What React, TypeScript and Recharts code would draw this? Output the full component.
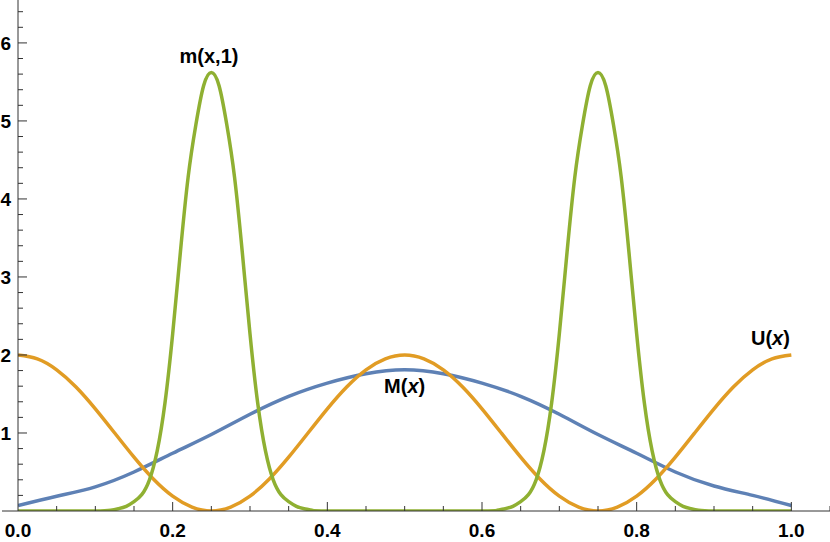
import React from 'react';
import { LineChart, Line, XAxis, YAxis, ReferenceDot } from 'recharts';

// U(x)
const uX = [
  0, 0.025, 0.05, 0.075, 0.1, 0.125, 0.15, 0.175, 0.2, 0.225, 0.25,
  0.275, 0.3, 0.325, 0.35, 0.375, 0.4, 0.425, 0.45, 0.475, 0.5,
  0.525, 0.55, 0.575, 0.6, 0.625, 0.65, 0.675, 0.7, 0.725, 0.75,
  0.775, 0.8, 0.825, 0.85, 0.875, 0.9, 0.925, 0.95, 0.975, 1.0,
];
const uY = [
  2.0, 1.95, 1.81, 1.59, 1.31, 1.0, 0.69, 0.41, 0.19, 0.05, 0.0,
  0.05, 0.19, 0.41, 0.69, 1.0, 1.31, 1.59, 1.81, 1.95, 2.0,
  1.95, 1.81, 1.59, 1.31, 1.0, 0.69, 0.41, 0.19, 0.05, 0.0,
  0.05, 0.19, 0.41, 0.69, 1.0, 1.31, 1.59, 1.81, 1.95, 2.0,
];

// M(x), blue
const bigMX = [
  0, 0.05, 0.1, 0.15, 0.2, 0.25, 0.3, 0.35, 0.4, 0.45, 0.5,
  0.55, 0.6, 0.65, 0.7, 0.75, 0.8, 0.85, 0.9, 0.95, 1.0,
];
const bigMY = [
  0.07, 0.19, 0.31, 0.5, 0.74, 0.98, 1.24, 1.47, 1.64, 1.76, 1.81,
  1.76, 1.64, 1.47, 1.24, 0.98, 0.74, 0.5, 0.32, 0.2, 0.07,
];

// m(x,1), green
const smallMX = [
  0, 0.05, 0.1, 0.12, 0.13, 0.14, 0.15, 0.16, 0.17, 0.18, 0.19, 0.2,
  0.21, 0.22, 0.23, 0.24, 0.25, 0.26, 0.27, 0.28, 0.29, 0.3, 0.31,
  0.32, 0.33, 0.34, 0.35, 0.36, 0.37, 0.38, 0.4, 0.5, 0.6,
  0.62, 0.63, 0.64, 0.65, 0.66, 0.67, 0.68, 0.69, 0.7, 0.71, 0.72,
  0.73, 0.74, 0.75, 0.76, 0.77, 0.78, 0.79, 0.8, 0.81, 0.82, 0.83,
  0.84, 0.85, 0.86, 0.87, 0.88, 0.9, 0.95, 1.0,
];
const smallMY = [
  0, 0, 0, 0.01, 0.03, 0.06, 0.12, 0.21, 0.4, 0.77, 1.38, 2.27,
  3.32, 4.28, 4.95, 5.45, 5.62, 5.45, 4.95, 4.28, 3.32, 2.27, 1.38,
  0.77, 0.4, 0.21, 0.12, 0.06, 0.03, 0.01, 0, 0, 0,
  0.01, 0.03, 0.06, 0.12, 0.21, 0.4, 0.77, 1.38, 2.27, 3.32, 4.28,
  4.95, 5.45, 5.62, 5.45, 4.95, 4.28, 3.32, 2.27, 1.38, 0.77, 0.4,
  0.21, 0.12, 0.06, 0.03, 0.01, 0, 0, 0,
];

const xTicks = [
  0, 0.05, 0.1, 0.15, 0.2, 0.25, 0.3, 0.35, 0.4, 0.45, 0.5,
  0.55, 0.6, 0.65, 0.7, 0.75, 0.8, 0.85, 0.9, 0.95, 1.0, 1.05,
];
const xMajor = [0, 0.2, 0.4, 0.6, 0.8, 1.0];
const xLabels = ['0.0', '0.2', '0.4', '0.6', '0.8', '1.0'];

const yTicks = [
  0.2, 0.4, 0.6, 0.8, 1, 1.2, 1.4, 1.6, 1.8, 2, 2.2, 2.4, 2.6, 2.8, 3,
  3.2, 3.4, 3.6, 3.8, 4, 4.2, 4.4, 4.6, 4.8, 5, 5.2, 5.4, 5.6, 5.8, 6,
  6.2, 6.4,
];
const yMajor = [1, 2, 3, 4, 5, 6];
const yLabels = ['1', '2', '3', '4', '5', '6'];

const toPoints = (xs: number[], ys: number[]) => xs.map((x, i) => ({ x, y: ys[i] }));
const uData = toPoints(uX, uY);
const bigMData = toPoints(bigMX, bigMY);
const smallMData = toPoints(smallMX, smallMY);

const AXIS = '#333';
const FONT = '"Liberation Sans", Arial, sans-serif';

const majorIndex = (list: number[], v: number) =>
  list.findIndex((t) => Math.abs(t - v) < 1e-6);

function XTick(props: any) {
  const { x, y, payload } = props;
  const v = payload.value as number;
  const idx = majorIndex(xMajor, v);
  return (
    <g>
      {v === 0 ? (
        <line x1={x - 16} x2={x} y1={y} y2={y} stroke={AXIS} />
      ) : (
        <line x1={x} x2={x} y1={y} y2={y - (idx >= 0 ? 9 : 5)} stroke={AXIS} />
      )}
      {idx >= 0 && (
        <text x={x} y={y + 26} textAnchor="middle" fontSize={19} fontWeight="bold" fontFamily={FONT} fill="#000">
          {xLabels[idx]}
        </text>
      )}
    </g>
  );
}

function YTick(props: any) {
  const { x, y, payload } = props;
  const v = payload.value as number;
  const idx = majorIndex(yMajor, v);
  return (
    <g>
      <line x1={x} x2={x + (idx >= 0 ? 9 : 5)} y1={y} y2={y} stroke={AXIS} />
      {idx >= 0 && (
        <text x={x - 7} y={y} dy="0.35em" textAnchor="end" fontSize={19} fontWeight="bold" fontFamily={FONT} fill="#000">
          {yLabels[idx]}
        </text>
      )}
    </g>
  );
}

const curveLabel = (main: string, arg: string, italic: boolean) => (p: any) => (
  <text x={p.cx} y={p.cy} textAnchor="middle" fontSize={20} fontWeight="bold" fontFamily={FONT} fill="#000">
    {main}(
    <tspan fontStyle={italic ? 'italic' : 'normal'}>{arg}</tspan>
    )
  </text>
);

export default function App() {
  return (
    <div style={{ position: 'absolute', left: 0, top: 0, width: 830, height: 542, background: '#fff' }}>
      <LineChart width={830} height={542} margin={{ top: 0, right: 0, left: 0, bottom: 0 }}>
        <XAxis
          dataKey="x"
          type="number"
          domain={[0, 1.05]}
          ticks={xTicks}
          interval={0}
          height={31}
          tickSize={0}
          tickMargin={0}
          tickLine={false}
          tick={<XTick />}
          axisLine={{ stroke: AXIS }}
          allowDataOverflow
        />
        <YAxis
          type="number"
          domain={[0, 6.55]}
          ticks={yTicks}
          interval={0}
          width={18}
          tickSize={0}
          tickMargin={0}
          tickLine={false}
          tick={<YTick />}
          axisLine={{ stroke: AXIS }}
          allowDataOverflow
        />
        <Line data={bigMData} dataKey="y" type="natural" stroke="#5E81B5" strokeWidth={3.5} dot={false} isAnimationActive={false} />
        <Line data={uData} dataKey="y" type="natural" stroke="#E19C24" strokeWidth={3.5} dot={false} isAnimationActive={false} />
        <Line data={smallMData} dataKey="y" type="natural" stroke="#8FB032" strokeWidth={3.5} dot={false} isAnimationActive={false} />
        <ReferenceDot x={0.247} y={5.74} r={0} shape={curveLabel('m', 'x,1', false)} />
        <ReferenceDot x={0.5} y={1.51} r={0} shape={curveLabel('M', 'x', true)} />
        <ReferenceDot x={0.973} y={2.13} r={0} shape={curveLabel('U', 'x', true)} />
      </LineChart>
    </div>
  );
}
